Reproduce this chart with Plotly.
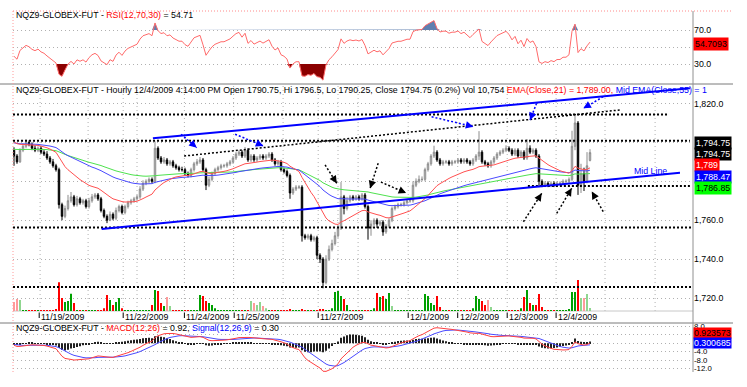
import plotly.graph_objects as go

# ------------------------------------------------------------------ data
close = [1793, 1790, 1796, 1798, 1800, 1799, 1797, 1796, 1797, 1795,
         1794, 1792, 1790, 1788, 1786, 1768, 1762, 1766, 1770, 1772,
         1768, 1771, 1769, 1770, 1767, 1770, 1772, 1773, 1771, 1765,
         1762, 1760, 1763, 1761, 1765, 1767, 1764, 1767, 1769, 1770,
         1771, 1772, 1776, 1779, 1780, 1781, 1780, 1797, 1792, 1790,
         1791, 1789, 1790, 1788, 1787, 1786, 1786, 1784, 1783, 1786,
         1789, 1790, 1791, 1786, 1778, 1781, 1784, 1786, 1787, 1788,
         1788, 1789, 1790, 1792, 1794, 1795, 1793, 1796, 1791, 1793,
         1791, 1792, 1793, 1792, 1793, 1794, 1791, 1789, 1790, 1786,
         1785, 1783, 1774, 1776, 1777, 1777, 1752, 1751, 1752, 1750,
         1751, 1742, 1740, 1728, 1740, 1745, 1748, 1752, 1756, 1772,
         1766, 1770, 1772, 1771, 1772, 1771, 1773, 1767, 1756, 1758,
         1760, 1758, 1759, 1754, 1757, 1760, 1766, 1767, 1768, 1768,
         1769, 1770, 1770, 1778, 1780, 1781, 1781, 1786, 1789, 1793,
         1795, 1791, 1789, 1790, 1790, 1789, 1790, 1790, 1791, 1790,
         1791, 1790, 1789, 1791, 1793, 1795, 1790, 1789, 1788, 1790,
         1792, 1794, 1795, 1796, 1797, 1796, 1794, 1796, 1793, 1795,
         1792, 1797, 1795, 1796, 1793, 1780, 1778, 1779, 1778, 1779,
         1778, 1779, 1779, 1780, 1780, 1781, 1798, 1810, 1778, 1784,
         1780, 1788, 1794.75]

open_ = [1796, 1793, 1790, 1796, 1798, 1800, 1799, 1797, 1796, 1797,
         1795, 1794, 1792, 1790, 1788, 1786, 1768, 1762, 1766, 1770,
         1772, 1768, 1771, 1769, 1770, 1767, 1770, 1772, 1773, 1771,
         1765, 1762, 1760, 1763, 1761, 1765, 1767, 1764, 1767, 1769,
         1770, 1771, 1772, 1776, 1779, 1780, 1781, 1780, 1797, 1792,
         1790, 1791, 1789, 1790, 1788, 1787, 1786, 1786, 1784, 1783,
         1786, 1789, 1790, 1791, 1786, 1778, 1781, 1784, 1786, 1787,
         1788, 1788, 1789, 1790, 1792, 1794, 1795, 1793, 1796, 1791,
         1793, 1791, 1792, 1793, 1792, 1793, 1794, 1791, 1789, 1790,
         1786, 1785, 1783, 1774, 1776, 1777, 1777, 1752, 1751, 1752,
         1750, 1751, 1742, 1740, 1728, 1740, 1745, 1748, 1752, 1756,
         1772, 1766, 1770, 1772, 1771, 1772, 1771, 1773, 1767, 1756,
         1758, 1760, 1758, 1759, 1754, 1757, 1760, 1766, 1767, 1768,
         1768, 1769, 1770, 1770, 1778, 1780, 1781, 1781, 1786, 1789,
         1793, 1795, 1791, 1789, 1790, 1790, 1789, 1790, 1790, 1791,
         1790, 1791, 1790, 1789, 1791, 1793, 1795, 1790, 1789, 1788,
         1790, 1792, 1794, 1795, 1796, 1797, 1796, 1794, 1796, 1793,
         1795, 1792, 1797, 1795, 1796, 1793, 1780, 1778, 1779, 1778,
         1779, 1778, 1779, 1779, 1780, 1780, 1781, 1798, 1810, 1778,
         1784, 1780, 1790.75]

high = [1797.5, 1794, 1797, 1799.5, 1801.5, 1801, 1800, 1798.5, 1798, 1798,
        1796, 1795.5, 1793, 1791.5, 1789, 1787, 1769, 1767.5, 1773, 1774.5,
        1773, 1772.5, 1772, 1771, 1771, 1771.5, 1773.5, 1774, 1774, 1772,
        1766, 1763, 1764.5, 1764, 1766.5, 1768, 1768, 1768, 1770, 1771,
        1772, 1773, 1777.5, 1780.5, 1781, 1782, 1782, 1800.5, 1798, 1793,
        1792.5, 1792, 1791, 1791, 1789, 1788, 1787.5, 1787, 1785, 1787,
        1790, 1791.5, 1792.5, 1792, 1787, 1782.5, 1785, 1787, 1788, 1789,
        1789, 1790, 1791, 1793, 1795, 1796, 1796, 1797.6, 1797, 1794,
        1794, 1793, 1794, 1794, 1794, 1795, 1795, 1792, 1791, 1791,
        1787, 1786, 1784, 1777, 1778, 1778, 1778, 1753, 1753, 1753,
        1752, 1752, 1743, 1741, 1742, 1747, 1750, 1754, 1757.5, 1779.6,
        1773, 1772, 1773, 1773, 1773, 1773, 1774, 1774, 1768, 1760,
        1761, 1761, 1760, 1760, 1758, 1761, 1767, 1768, 1769, 1769,
        1770, 1771, 1771, 1780, 1781.5, 1783, 1782.5, 1787, 1790, 1794,
        1798.3, 1796, 1792, 1791, 1791, 1791, 1791, 1791, 1792, 1792,
        1792, 1792, 1791, 1792, 1794, 1805.8, 1796, 1791, 1790, 1791,
        1793, 1795, 1796, 1797, 1798.5, 1798, 1797, 1797, 1797, 1796,
        1796, 1801.7, 1798.5, 1797, 1797, 1794, 1781, 1780, 1780, 1780,
        1780, 1780, 1780, 1781, 1781, 1782, 1806, 1814, 1811, 1789,
        1787, 1795, 1796.5]

low = [1788, 1789, 1789.5, 1795, 1797, 1798, 1796, 1795, 1795, 1794,
       1793, 1791, 1789, 1787, 1785, 1766, 1760, 1761, 1765, 1769,
       1767, 1767, 1768, 1768, 1766, 1766, 1769, 1771, 1770, 1764,
       1761, 1758.5, 1759.5, 1760, 1760, 1764, 1763, 1763, 1766, 1768,
       1769, 1770, 1771, 1775, 1778, 1779, 1779, 1779, 1791, 1789,
       1789, 1788, 1788, 1787, 1786, 1785, 1785, 1783, 1782, 1782,
       1785, 1788, 1789, 1785, 1775.5, 1777, 1780, 1783, 1785, 1786,
       1787, 1787, 1788, 1789, 1791, 1793, 1792, 1792, 1790, 1790,
       1790, 1790, 1791, 1791, 1791, 1792, 1790, 1788, 1788, 1785,
       1784, 1782, 1771, 1773, 1775, 1776, 1749, 1750, 1750, 1749,
       1749, 1740, 1738, 1725, 1727, 1739, 1744, 1747, 1751, 1755,
       1763, 1765, 1769, 1770, 1770, 1770, 1770, 1766, 1750, 1752,
       1757, 1756, 1757, 1752, 1753, 1756, 1759, 1765, 1766, 1767,
       1767, 1768, 1769, 1769, 1777, 1779, 1780, 1780, 1785, 1788,
       1792, 1790, 1788, 1788, 1789, 1788, 1788, 1789, 1789, 1789,
       1789, 1789, 1788, 1788, 1790, 1791, 1789, 1788, 1787, 1787,
       1789, 1791, 1793, 1794, 1795, 1795, 1793, 1793, 1792, 1792,
       1791, 1791, 1794, 1794, 1792, 1777, 1777, 1777, 1777, 1777,
       1777, 1777, 1778, 1778, 1779, 1779, 1780, 1796, 1773, 1774,
       1775, 1779, 1790.25]

volume = [31500, 42000, 38500, 3000, 1200, 900, 1500, 800, 1100, 1300,
          900, 1400, 1000, 2500, 7000, 100000, 45000, 31000, 35000, 60000,
          28000, 3000, 1200, 900, 1000, 1400, 800, 1100, 1500, 2000,
          10000, 56000, 38000, 21000, 31000, 45000, 10000, 1500, 900, 1200,
          1000, 800, 1300, 1100, 900, 1500, 21000, 73000, 70000, 28000,
          17000, 49000, 17000, 1200, 1000, 900, 1400, 800, 1100, 2000,
          1500, 2500, 56000, 52000, 35000, 28000, 21000, 10000, 1200, 900,
          1000, 1300, 800, 1100, 900, 1400, 1000, 1200, 2000, 35000,
          28000, 21000, 31000, 17000, 10000, 1500, 1200, 900, 3500, 2800,
          3200, 2500, 4000, 3000, 2500, 3500, 4500, 3000, 2600, 3200,
          2800, 3500, 4000, 5000, 3500, 2500, 10000, 66000, 70000, 52000,
          42000, 21000, 1500, 1200, 1000, 900, 1400, 1100, 3000, 2500,
          10000, 63000, 49000, 52000, 42000, 63000, 17000, 1500, 1000, 900,
          1200, 800, 1100, 2500, 1500, 1300, 2000, 59000, 52000, 28000,
          21000, 52000, 14000, 1500, 1000, 900, 1200, 800, 1100, 1300,
          1000, 900, 1500, 10000, 52000, 42000, 35000, 21000, 38000, 14000,
          1200, 1000, 900, 1300, 1100, 800, 1000, 1200, 1500, 10000,
          49000, 73000, 28000, 21000, 21000, 59000, 14000, 1500, 1200, 1000,
          900, 1300, 1100, 1500, 1800, 7000, 66000, 66000, 108000, 45000,
          45000, 59000, 10754]

light_vol = [0, 1, 2, 51, 52, 79, 80, 81, 82, 83, 84, 126, 158, 159, 189, 190, 191, 192]

date_labels = ["11/19/2009", "11/22/2009", "11/24/2009", "11/25/2009", "11/27/2009",
               "12/1/2009", "12/2/2009", "12/3/2009", "12/4/2009"]
date_pos = [8.4, 36.4, 56.8, 73.4, 101.4, 131.4, 147.9, 164.4, 180.7]
day_lines = [8.7, 24.7, 36.4, 41.0, 56.8, 73.2, 89.7, 101.4, 108.0, 114.7,
             131.4, 147.9, 164.4, 180.7, 197.0, 213.7]

price_ticks = [1720, 1740, 1760, 1780, 1800, 1820]
rsi_ticks = [30, 50, 70]
macd_ticks = [-12, -8, -4, 0, 4, 8]
# tick labels covered by the last-value boxes in the reference
hidden_ticks = [1780, 1800, 50, 0, 4]

ema_periods = [21, 55, 89]
ema_seeds = [1801.0, 1800.0, 1796.5]
rsi_seed = [1.2, 1.6]
macd_seeds = [1799.0, 1799.5, -0.5]

# user drawn studies (bar index, price)
upper_channel = [(46.3, 1802.1), (225.3, 1827.8)]
lower_channel = [(29.2, 1755.5), (222.0, 1784.4)]
mid_dotted = [(56.7, 1793.0), (202.0, 1816.7)]
levels = [(1814.3, -0.33, 217.7), (1800.9, -0.33, 225.3), (1777.6, 171.3, 225.3),
          (1756.2, -0.33, 226.3), (1725.6, -0.33, 226.3)]
blue_arrows = [((55.7, 1804.2), (60.9, 1797.3)), ((73.7, 1804.2), (83.1, 1798.2)),
               ((139.2, 1813.2), (153.1, 1808.1)), ((174.2, 1820.1), (172.0, 1811.5)),
               ((196.4, 1823.5), (189.8, 1817.5))]
black_arrows = [((103.7, 1788.4), (107.6, 1779.0)), ((121.4, 1789.3), (118.7, 1776.4)),
                ((122.3, 1779.6), (130.7, 1774.0)), ((169.8, 1759.2), (175.9, 1773.8)),
                ((180.9, 1763.5), (185.9, 1776.4)), ((196.4, 1764.4), (192.6, 1774.7))]

# ------------------------------------------------------------------ indicators
N = len(close)
idx = list(range(N))


def ema(vals, n, seed):
    a = 2.0 / (n + 1)
    e = seed
    out = []
    for v in vals:
        e = e + a * (v - e)
        out.append(e)
    return out


def rsi_wilder(c, n, g0, l0, first_prev):
    ag, al = g0, l0
    prev = first_prev
    out = []
    for v in c:
        d = v - prev
        ag = (ag * (n - 1) + max(d, 0)) / n
        al = (al * (n - 1) + max(-d, 0)) / n
        out.append(100.0 if al == 0 else 100 - 100 / (1 + ag / al))
        prev = v
    return out


emas = [ema(close, p, s) for p, s in zip(ema_periods, ema_seeds)]
rsi = rsi_wilder(close, 12, rsi_seed[0], rsi_seed[1], open_[0])
e12 = ema(close, 12, macd_seeds[0])
e26 = ema(close, 26, macd_seeds[1])
macd = [a - b for a, b in zip(e12, e26)]
sig = ema(macd, 9, macd_seeds[2])
hist = [a - b for a, b in zip(macd, sig)]

# ------------------------------------------------------------------ geometry
W, H = 747, 387
ML, MR, MT, MB = 13, 54, 11, 15
PW, PH = W - ML - MR, H - MT - MB
XR = [-1 / 3, 226 + 1 / 3]


def ypap(py):
    return 1 - (py - MT) / PH


RSI_DOM = [ypap(84), 1]
MAIN_DOM = [ypap(323), ypap(84)]
MACD_DOM = [0, ypap(323)]
VOL_DOM = [ypap(311), ypap(211)]
PRICE_R = [1707.15, 1830.03]
RSI_R = [6.47, 92.35]
MACD_R = [-13.67, 9.67]
VOL_R = [0, max(volume) * 100 / 31]

PX_BAR = PW / (XR[1] - XR[0])
PX_PT = (MAIN_DOM[1] - MAIN_DOM[0]) * PH / (PRICE_R[1] - PRICE_R[0])

FONT = "Liberation Sans, Arial, sans-serif"
FS = 8.8
RED, BLUE = "#ff0000", "#0000ff"

fig = go.Figure()

# volume
vcol = []
for i in range(N):
    up = close[i] >= open_[i]
    if i in light_vol:
        vcol.append("#8fd68f" if up else "#ff9a9a")
    else:
        vcol.append("#00a000" if up else "#ff0000")
fig.add_trace(go.Bar(x=idx, y=volume, marker=dict(color=vcol, line=dict(width=0)),
                     width=0.55, yaxis="y4", xaxis="x"))

# candles
fig.add_trace(go.Candlestick(
    x=idx, open=open_, high=high, low=low, close=close, xaxis="x", yaxis="y",
    increasing=dict(line=dict(color="#8c8c8c", width=1), fillcolor="#d4d4d4"),
    decreasing=dict(line=dict(color="#000000", width=1), fillcolor="#000000"),
    whiskerwidth=0))

# EMAs (green first so the red EMA21 ends on top)
for k in (2, 1, 0):
    col = ["#ff5050", "#4a4aff", "#4ee24e"][k]
    fig.add_trace(go.Scatter(x=idx, y=emas[k], mode="lines", line=dict(color=col, width=1),
                             xaxis="x", yaxis="y"))

# RSI
fig.add_trace(go.Scatter(x=idx, y=[70] * N, mode="lines", line=dict(width=0), yaxis="y2"))
fig.add_trace(go.Scatter(x=idx, y=[max(v, 70) for v in rsi], mode="lines", line=dict(width=0),
                         fill="tonexty", fillcolor="#5f7fb0", yaxis="y2"))
fig.add_trace(go.Scatter(x=idx, y=[30] * N, mode="lines", line=dict(width=0), yaxis="y2"))
fig.add_trace(go.Scatter(x=idx, y=[min(v, 30) for v in rsi], mode="lines", line=dict(width=0),
                         fill="tonexty", fillcolor="#8b0000", yaxis="y2"))
fig.add_trace(go.Scatter(x=idx, y=rsi, mode="lines", line=dict(color="#ff6a6a", width=1),
                         yaxis="y2"))

# MACD
fig.add_trace(go.Bar(x=idx, y=hist, marker=dict(color="#202020", line=dict(width=0)),
                     width=0.35, yaxis="y3"))
fig.add_trace(go.Scatter(x=idx, y=sig, mode="lines", line=dict(color="#4a4aff", width=1), yaxis="y3"))
fig.add_trace(go.Scatter(x=idx, y=macd, mode="lines", line=dict(color="#ff4040", width=1), yaxis="y3"))

# ------------------------------------------------------------------ shapes
shapes = []
GRID = dict(color="#b0b0b0", width=1, dash="1px,3px")
for d in day_lines:
    shapes.append(dict(type="line", xref="x", yref="paper", x0=d, x1=d,
                       y0=ypap(311), y1=ypap(84), line=GRID, layer="below"))
shapes.append(dict(type="line", xref="paper", yref="paper", x0=0, x1=1, y0=ypap(311), y1=ypap(311),
                   line=dict(color="#c8c8c8", width=1), layer="below"))
for py_ in (84, 323):
    shapes.append(dict(type="line", xref="paper", yref="paper", x0=-ML / PW, x1=(PW + 40) / PW,
                       y0=ypap(py_), y1=ypap(py_), line=dict(color="#7a7a7a", width=1)))
shapes.append(dict(type="line", xref="paper", yref="paper", x0=1, x1=1, y0=0, y1=1,
                   line=dict(color="#909090", width=1)))
shapes.append(dict(type="line", xref="paper", yref="paper", x0=0, x1=(PW + 40) / PW, y0=1, y1=1,
                   line=dict(color="#ff8a8a", width=1, dash="1px,2px")))
shapes.append(dict(type="line", xref="paper", yref="paper", x0=0, x1=0, y0=0, y1=1,
                   line=dict(color="#ff9a9a", width=1, dash="1px,2px")))
for d in date_pos:
    shapes.append(dict(type="line", xref="x", yref="paper", x0=d, x1=d, y0=ypap(318), y1=ypap(312.5),
                       line=dict(color="#000000", width=1)))
for p, a, b in levels:
    shapes.append(dict(type="line", xref="x", yref="y", x0=a, x1=b, y0=p, y1=p,
                       line=dict(color="#000000", width=2, dash="2px,2px")))
for seg in (upper_channel, lower_channel):
    shapes.append(dict(type="line", xref="x", yref="y", x0=seg[0][0], y0=seg[0][1],
                       x1=seg[1][0], y1=seg[1][1], line=dict(color="#0000ff", width=2)))
shapes.append(dict(type="line", xref="x", yref="y", x0=mid_dotted[0][0], y0=mid_dotted[0][1],
                   x1=mid_dotted[1][0], y1=mid_dotted[1][1],
                   line=dict(color="#000000", width=1.5, dash="2px,2px")))

annotations = []


def add_arrow(tail, head, color):
    shapes.append(dict(type="line", xref="x", yref="y", x0=tail[0], y0=tail[1], x1=head[0], y1=head[1],
                       line=dict(color=color, width=1.5, dash="2px,2px")))
    dx = (tail[0] - head[0]) * PX_BAR
    dy = -(tail[1] - head[1]) * PX_PT
    ln = (dx * dx + dy * dy) ** 0.5
    annotations.append(dict(x=head[0], y=head[1], xref="x", yref="y", text="", showarrow=True,
                            arrowhead=2, arrowsize=1, arrowwidth=1.5, arrowcolor=color,
                            ax=dx / ln * 8, ay=dy / ln * 8, standoff=0))


for t, h in blue_arrows:
    add_arrow(t, h, "#0000ff")
for t, h in black_arrows:
    add_arrow(t, h, "#000000")


def txt(text, x, y, xref="paper", yref="paper", color="#000000", **kw):
    d = dict(text=text, x=x, y=y, xref=xref, yref=yref, showarrow=False, xanchor="left",
             yanchor="middle", font=dict(family=FONT, size=FS, color=color))
    d.update(kw)
    annotations.append(d)


def span(t, c):
    return "<span style='color:%s'>%s</span>" % (c, t)


txt("NQZ9-GLOBEX-FUT - " + span("RSI(12,70,30)", RED) + " = 54.71", 0, ypap(15.5), xshift=1)
txt("NQZ9-GLOBEX-FUT - Hourly 12/4/2009 4:14:00 PM Open 1790.75, Hi 1796.5, Lo 1790.25, "
    "Close 1794.75 (0.2%) Vol 10,754 " + span("EMA(Close,21) = 1,789.00,", RED) + " "
    + span("Mid EMA(Close,55) = 1", BLUE), 0, ypap(90), xshift=1)
txt("NQZ9-GLOBEX-FUT - " + span("MACD(12,26)", RED) + " = 0.92, " + span("Signal(12,26,9)", BLUE)
    + " = 0.30", 0, ypap(327.5), xshift=1)
for lab, d in zip(date_labels, date_pos):
    txt(lab, d, ypap(317), xref="x", xshift=0)
txt("Mid Line", 206, 1785.2, xref="x", yref="y", color=BLUE)


def box(text, py_, bg, fg, xs=0, size=FS, pad=1):
    annotations.append(dict(text=text, x=1, y=ypap(py_), xref="paper", yref="paper", showarrow=False,
                            xanchor="left", yanchor="middle", xshift=xs, bgcolor=bg, borderpad=pad,
                            font=dict(family=FONT, size=size, color=fg)))


box("54.7093", 44, "#ff0000", "#000000")
box("1,794.75", 143, "#000000", "#ffffff", 1)
box("1,794.75", 154, "#000000", "#ffffff", 1)
box("1,789", 165, "#ff0000", "#ffffff", 1)
box("1,788.47", 177, "#0000ff", "#ffffff", 1)
box("1,786.85", 188, "#00ff00", "#000000", 1)
box("0.923573", 332.5, "#ff0000", "#000000", 0, FS, 0)
box("0.300685", 343.0, "#0000ff", "#ffffff", 0, FS, 0)


def labels(vals, fmt):
    return ["" if v in hidden_ticks else fmt.format(v) for v in vals]


tickfont = dict(family=FONT, size=FS, color="#000000")
axis_common = dict(side="right", anchor="x", showline=False, zeroline=False, ticks="",
                   showgrid=True, gridcolor="#b0b0b0", griddash="1px,3px", gridwidth=1,
                   fixedrange=True)

fig.update_layout(
    width=W, height=H, margin=dict(l=ML, r=MR, t=MT, b=MB),
    paper_bgcolor="white", plot_bgcolor="rgba(0,0,0,0)", showlegend=False, barmode="overlay",
    xaxis=dict(range=XR, visible=False, rangeslider=dict(visible=False), fixedrange=True),
    yaxis=dict(domain=MAIN_DOM, range=PRICE_R, tickvals=price_ticks, tickfont=tickfont,
               ticktext=labels(price_ticks, "{:,.1f}"), **axis_common),
    yaxis2=dict(domain=RSI_DOM, range=RSI_R, tickvals=rsi_ticks, tickfont=tickfont,
                ticktext=labels(rsi_ticks, "{:.1f}"), **axis_common),
    yaxis3=dict(domain=MACD_DOM, range=MACD_R, tickvals=macd_ticks,
                tickfont=dict(family=FONT, size=7.8, color="#000000"),
                ticktext=labels(macd_ticks, "{:.1f}"), **axis_common),
    yaxis4=dict(domain=VOL_DOM, range=VOL_R, visible=False, anchor="x", fixedrange=True),
    shapes=shapes, annotations=annotations,
)

fig.write_html("out.html", config={"displayModeBar": False},
               post_script="document.body.style.margin='0px';")
